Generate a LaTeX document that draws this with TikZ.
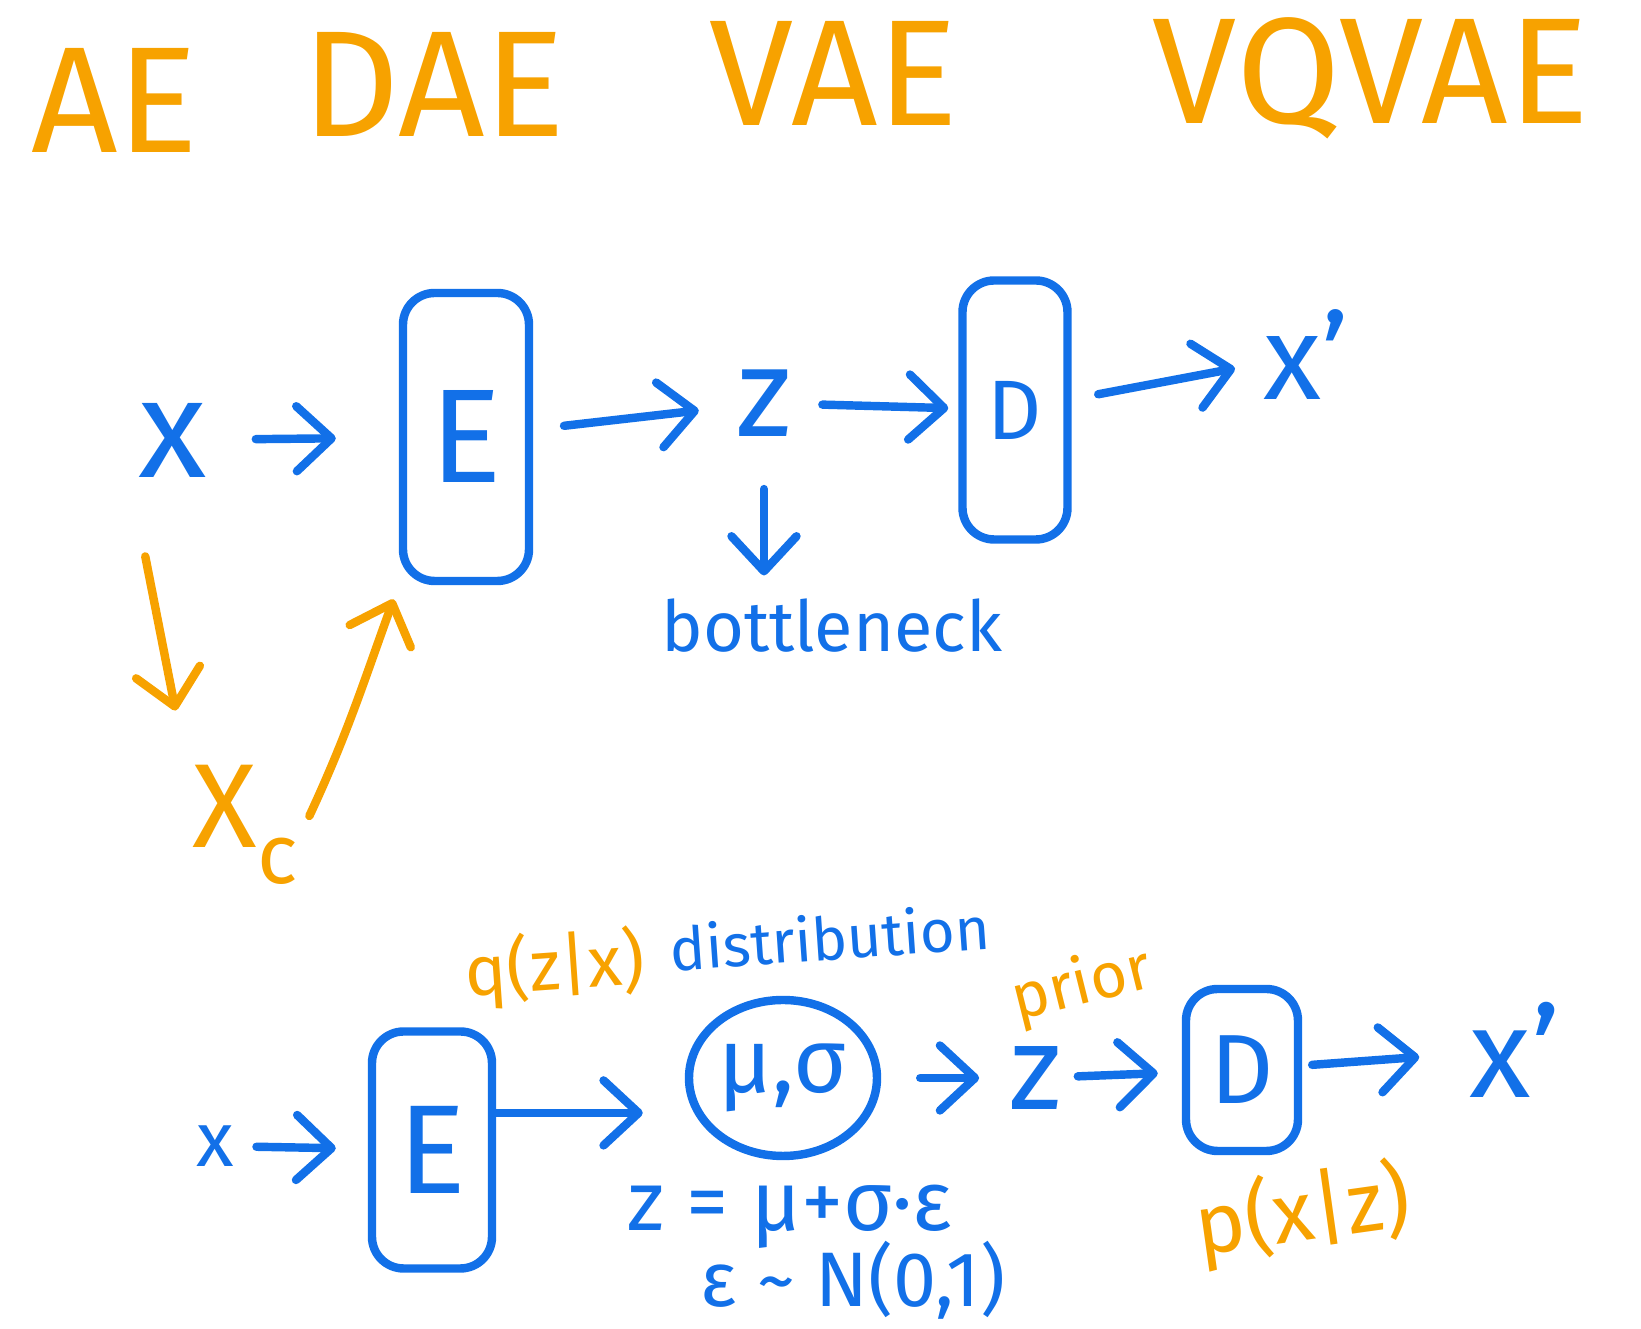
\documentclass[tikz,border=0pt]{standalone}
\usepackage{fontspec}
\setmainfont{Fira Sans}
\usetikzlibrary{arrows.meta,shapes.geometric}
\definecolor{penblue}{RGB}{18,112,232}
\definecolor{penorange}{RGB}{247,162,0}

\begin{document}
\begin{tikzpicture}[
  title/.style={text=penorange,font=\fontsize{43}{43}\selectfont},
  sym/.style={text=penblue,inner sep=2pt},
  note/.style={text=penorange,inner sep=2pt},
  coder/.style={draw=penblue,line width=2.4pt,rounded corners=9pt,text=penblue,inner sep=0pt},
  flow/.style={draw=penblue,line width=2.4pt,line cap=round,-{Straight Barb[length=3.5mm,width=6.5mm,round]}},
  noise/.style={flow,draw=penorange},
  every node/.append style={align=center}
]
  \useasboundingbox (0,0) rectangle (16.41,-13.29);

  % titles
  \node[title] (ae) at (1.15,-1.00) {AE};
  \node[title] (dae) at (4.34,-0.84) {DAE};
  \node[title] (vae) at (8.34,-0.73) {VAE};
  \node[title] (vqvae) at (13.71,-0.78) {VQVAE};

  % AE / DAE
  \node[sym,font=\fontsize{40}{40}\selectfont] (x1) at (1.73,-4.40) {x};
  \node[coder,minimum width=1.26cm,minimum height=2.88cm,font=\fontsize{38}{38}\selectfont] (enc1) at (4.66,-4.37) {E};
  \node[sym,font=\fontsize{36}{36}\selectfont] (z1) at (7.64,-4.03) {z};
  \node[coder,minimum width=1.05cm,minimum height=2.59cm,font=\fontsize{24}{24}\selectfont] (dec1) at (10.15,-4.10) {D};
  \node[sym,font=\fontsize{34}{34}\selectfont] (xr1) at (13.06,-3.55) {x'};
  \node[sym,font=\fontsize{20}{20}\selectfont] (neck) at (8.32,-6.26) {bottleneck};
  \node[note,font=\fontsize{34}{34}\selectfont] (xc) at (2.45,-8.25) {X\raisebox{-0.3em}{\fontsize{24}{24}\selectfont c}};

  \draw[flow,shorten <=0.41cm,shorten >=0.63cm] (x1) -- (enc1);
  \draw[flow,shorten <=0.31cm,shorten >=0.30cm] (enc1) -- (z1);
  \draw[flow,shorten <=0.23cm,shorten >=0.10cm] (z1) -- (dec1);
  \draw[flow,shorten <=0.27cm,shorten >=0.21cm] (dec1) -- (xr1);
  \draw[flow,shorten <=0.45cm,shorten >=0.16cm] (z1) -- (z1 |- neck.north);
  \draw[noise,shorten <=0.73cm,shorten >=0.48cm] (x1.south west) -- (xc.north west);
  \draw[noise,shorten <=0.10cm,shorten >=0.15cm] (xc.east) to[out=65,in=250] (enc1.south west);

  % VAE
  \node[sym,font=\fontsize{22}{22}\selectfont] (x2) at (2.15,-11.46) {x};
  \node[coder,minimum width=1.20cm,minimum height=2.37cm,font=\fontsize{36}{36}\selectfont] (enc2) at (4.32,-11.50) {E};
  \node[coder,ellipse,minimum width=1.88cm,minimum height=1.56cm,font=\fontsize{26}{26}\selectfont] (musig) at (7.83,-10.78) {μ,σ};
  \node[sym,font=\fontsize{34}{34}\selectfont] (z2) at (10.36,-10.78) {z};
  \node[coder,minimum width=1.12cm,minimum height=1.62cm,font=\fontsize{28}{28}\selectfont] (dec2) at (12.42,-10.70) {D};
  \node[sym,font=\fontsize{36}{36}\selectfont] (xr2) at (15.15,-10.50) {x'};

  \node[note,font=\fontsize{20}{20}\selectfont,rotate=4] (qlabel) at (5.55,-9.68) {q(z|x)};
  \node[sym,font=\fontsize{17}{17}\selectfont,rotate=4] (dist) at (8.30,-9.37) {distribution};
  \node[note,font=\fontsize{18}{18}\selectfont,rotate=14] (prior) at (10.82,-9.86) {prior};
  \node[note,font=\fontsize{24}{24}\selectfont,rotate=8] (plabel) at (13.03,-12.14) {p(x|z)};
  \node[sym,font=\fontsize{24}{24}\selectfont] (reparam) at (7.90,-12.17) {z = μ+σ·ε};
  \node[sym,font=\fontsize{22}{22}\selectfont] (eps) at (8.53,-12.80) {ε \textasciitilde{} N(0,1)};

  \draw[flow,shorten <=0.15cm,shorten >=0.32cm] (x2) -- (enc2);
  \draw[flow,shorten >=0.42cm] (enc2.30) -- (enc2.30 -| musig.west);
  \draw[flow,shorten <=0.39cm,shorten >=0.23cm] (musig) -- (z2);
  \draw[flow,shorten <=0.08cm,shorten >=0.24cm] (z2) -- (dec2);
  \draw[flow,shorten <=0.10cm,shorten >=0.43cm] (dec2) -- (xr2);
\end{tikzpicture}
\end{document}
